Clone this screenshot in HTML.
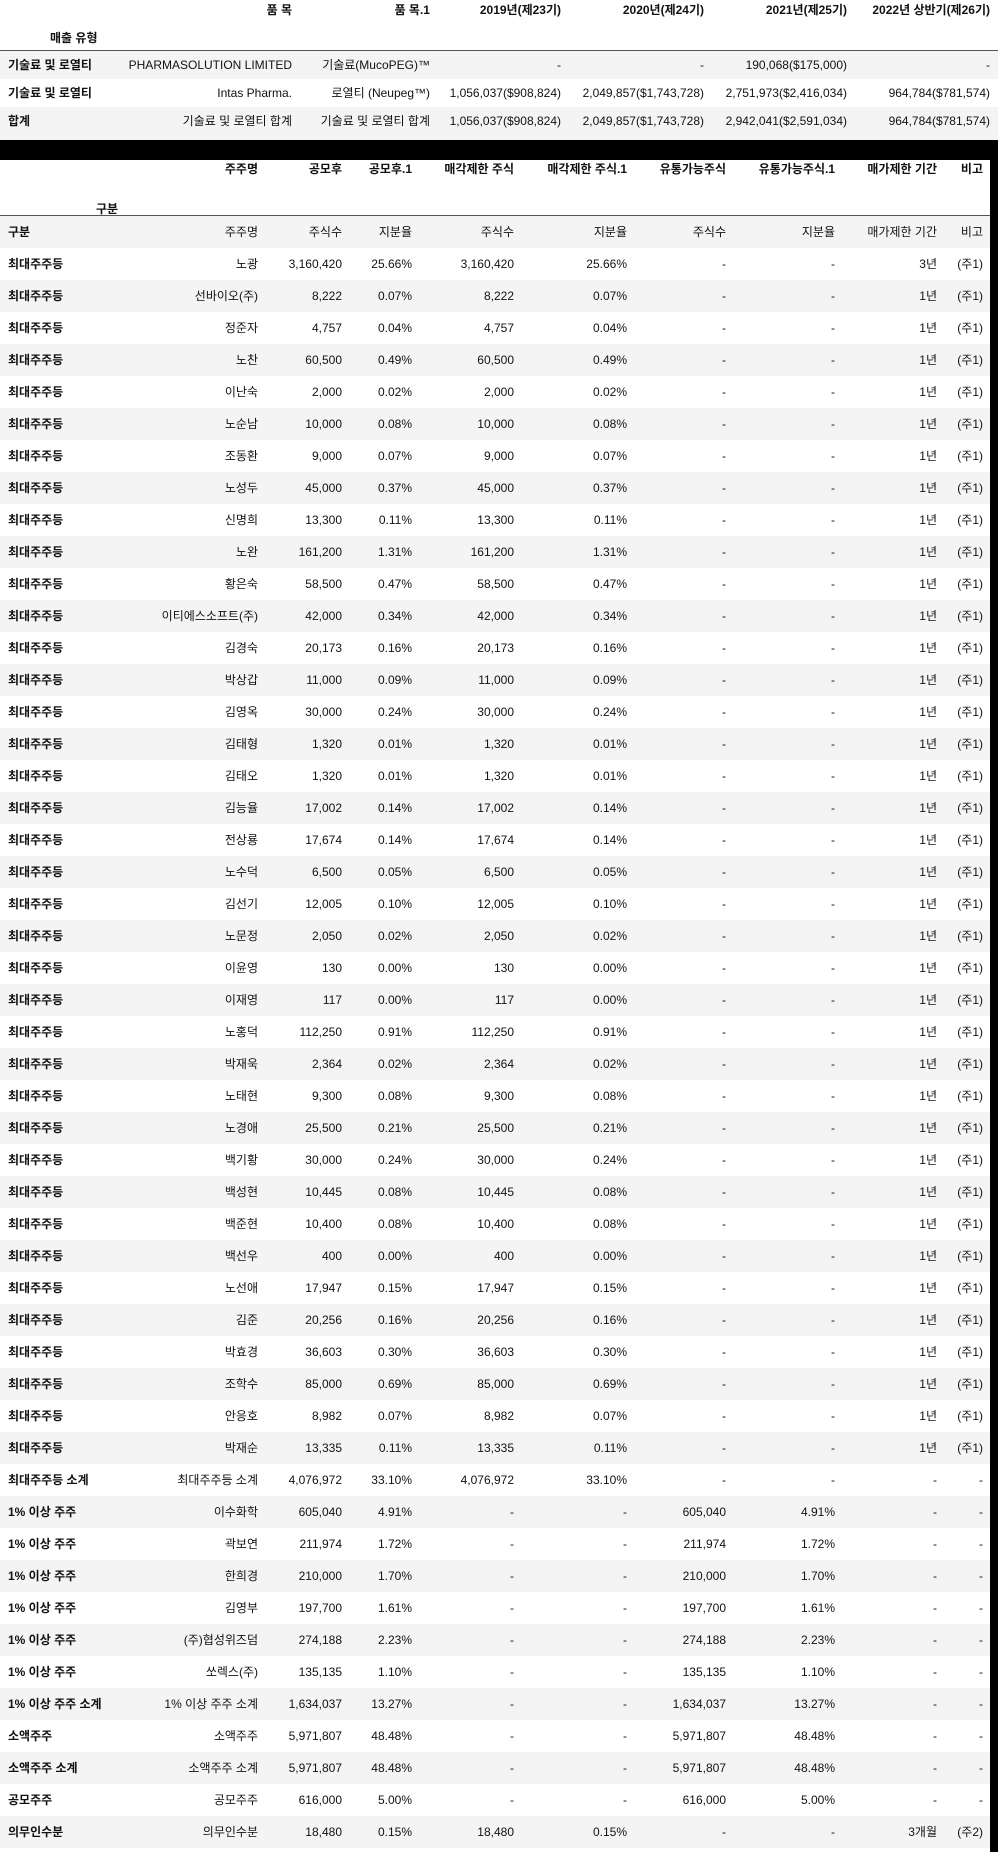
<!DOCTYPE html>
<html><head><meta charset="utf-8">
<style>
html,body{margin:0;padding:0;}
body{width:998px;height:1852px;background:#000;position:relative;overflow:hidden;font-family:"Liberation Sans","Noto Sans CJK KR",sans-serif;font-size:12px;color:#111;}
.t1{position:absolute;left:0;top:0;width:998px;height:140px;background:#fff;}
.t2{position:absolute;left:0;top:160px;width:990px;height:1692px;background:#fff;}
.row{position:absolute;left:0;width:100%;}
.g{background:#f4f4f4;}
.c{position:absolute;white-space:nowrap;}
.b{font-weight:bold;}
.line{position:absolute;left:0;width:100%;height:1px;background:#555;}
</style></head><body>
<div class="t1" id="t1"></div>
<div class="t2" id="t2"></div>
<script>
const t1Edges=[null,292,430,561,704,847,990];
const t1Header=["품 목","품 목.1","2019년(제23기)","2020년(제24기)","2021년(제25기)","2022년 상반기(제26기)"];
const t1Rows=[
["기술료 및 로열티","PHARMASOLUTION LIMITED","기술료(MucoPEG)™","-","-","190,068($175,000)","-"],
["기술료 및 로열티","Intas Pharma.","로열티 (Neupeg™)","1,056,037($908,824)","2,049,857($1,743,728)","2,751,973($2,416,034)","964,784($781,574)"],
["합계","기술료 및 로열티 합계","기술료 및 로열티 합계","1,056,037($908,824)","2,049,857($1,743,728)","2,942,041($2,591,034)","964,784($781,574)"]];
const t2Edges=[null,258,342,412,514,627,726,835,937,983];
const t2Header1=["주주명","공모후","공모후.1","매각제한 주식","매각제한 주식.1","유통가능주식","유통가능주식.1","매가제한 기간","비고"];
const t2Header2=["구분","주주명","주식수","지분율","주식수","지분율","주식수","지분율","매가제한 기간","비고"];
const majorNames=["노광","선바이오(주)","정준자","노찬","이난숙","노순남","조동환","노성두","신명희","노완","황은숙","이티에스소프트(주)","김경숙","박상갑","김영옥","김태형","김태오","김능율","전상룡","노수덕","김선기","노문정","이윤영","이재영","노홍덕","박재욱","노태현","노경애","백기황","백성현","백준현","백선우","노선애","김준","박효경","조학수","안응호","박재순"];
const majorShares=["3,160,420","8,222","4,757","60,500","2,000","10,000","9,000","45,000","13,300","161,200","58,500","42,000","20,173","11,000","30,000","1,320","1,320","17,002","17,674","6,500","12,005","2,050","130","117","112,250","2,364","9,300","25,500","30,000","10,445","10,400","400","17,947","20,256","36,603","85,000","8,982","13,335"];
const majorPct=["25.66%","0.07%","0.04%","0.49%","0.02%","0.08%","0.07%","0.37%","0.11%","1.31%","0.47%","0.34%","0.16%","0.09%","0.24%","0.01%","0.01%","0.14%","0.14%","0.05%","0.10%","0.02%","0.00%","0.00%","0.91%","0.02%","0.08%","0.21%","0.24%","0.08%","0.08%","0.00%","0.15%","0.16%","0.30%","0.69%","0.07%","0.11%"];
const otherRows=[
["최대주주등 소계","최대주주등 소계","4,076,972","33.10%","4,076,972","33.10%","-","-","-","-"],
["1% 이상 주주","이수화학","605,040","4.91%","-","-","605,040","4.91%","-","-"],
["1% 이상 주주","곽보연","211,974","1.72%","-","-","211,974","1.72%","-","-"],
["1% 이상 주주","한희경","210,000","1.70%","-","-","210,000","1.70%","-","-"],
["1% 이상 주주","김영부","197,700","1.61%","-","-","197,700","1.61%","-","-"],
["1% 이상 주주","(주)협성위즈덤","274,188","2.23%","-","-","274,188","2.23%","-","-"],
["1% 이상 주주","쏘렉스(주)","135,135","1.10%","-","-","135,135","1.10%","-","-"],
["1% 이상 주주 소계","1% 이상 주주 소계","1,634,037","13.27%","-","-","1,634,037","13.27%","-","-"],
["소액주주","소액주주","5,971,807","48.48%","-","-","5,971,807","48.48%","-","-"],
["소액주주 소계","소액주주 소계","5,971,807","48.48%","-","-","5,971,807","48.48%","-","-"],
["공모주주","공모주주","616,000","5.00%","-","-","616,000","5.00%","-","-"],
["의무인수분","의무인수분","18,480","0.15%","18,480","0.15%","-","-","3개월","(주2)"]];

function cell(parent,text,edge,top,bold,left){
  const s=document.createElement('span');
  s.className='c'+(bold?' b':'');
  s.textContent=text;
  s.style.top=top+'px';
  if(left!=null){s.style.left=left+'px';}else{s.style.right=(parent.offsetWidth-edge)+'px';}
  
  
  parent.appendChild(s);
}
function makeRow(parent,top,h,gray,name){
  const r=document.createElement('div');
  r.className='row'+(gray?' g':'');
  r.style.top=top+'px';r.style.height=h+'px';r.style.lineHeight=h+'px';
  
  
  parent.appendChild(r);
  return r;
}
// table 1
const t1=document.getElementById('t1');
t1Header.forEach((h,i)=>cell(t1,h,t1Edges[i+1],1,true));
cell(t1,"매출 유형",0,29,true,50);
const l1=document.createElement('div');l1.className='line';l1.style.top='50px';


t1.appendChild(l1);
t1Rows.forEach((row,ri)=>{
  const h=ri==2?33:28;
  const r=makeRow(t1,51+ri*28,h,ri%2==0,'sales-row');
  r.style.lineHeight='28px';
  row.forEach((v,ci)=>{ if(ci==0) cell(r,v,0,0,true,8); else cell(r,v,t1Edges[ci],0,false); });
});
// table 2
const t2=document.getElementById('t2');
t2Header1.forEach((h,i)=>cell(t2,h,t2Edges[i+1],0,true));
cell(t2,"구분",0,40,true,96);
const l2=document.createElement('div');l2.className='line';l2.style.top='55px';


t2.appendChild(l2);
const allRows=[t2Header2];
majorNames.forEach((n,i)=>allRows.push(["최대주주등",n,majorShares[i],majorPct[i],majorShares[i],majorPct[i],"-","-",i==0?"3년":"1년","(주1)"]));
otherRows.forEach(r=>allRows.push(r));
allRows.forEach((row,ri)=>{
  const r=makeRow(t2,56+ri*32,32,ri%2==0,ri==0?'column-header-row':'shareholder-row');
  row.forEach((v,ci)=>{ if(ci==0) cell(r,v,0,0,true,8); else cell(r,v,t2Edges[ci],0,ri==0&&false); });
});
</script>
</body></html>
